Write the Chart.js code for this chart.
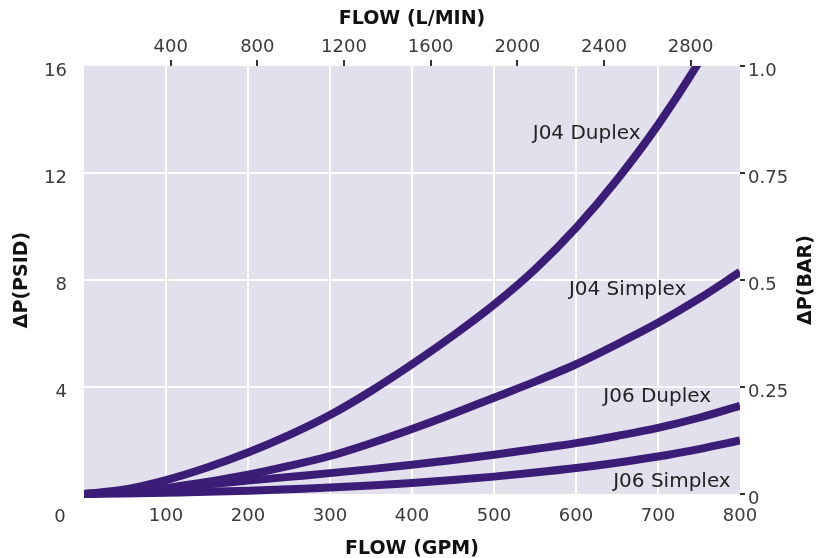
<!DOCTYPE html>
<html>
<head>
<meta charset="utf-8">
<script src="https://cdn.jsdelivr.net/npm/chart.js@4.4.1/dist/chart.umd.min.js"></script>
<style>
  html, body { margin: 0; padding: 0; background: #fff; }
  canvas { display: block; }
</style>
</head>
<body>
<canvas id="chart" width="818" height="558"></canvas>
<script>
// flow in GPM, pressure drop in PSID
const gpm = [0, 50, 100, 150, 200, 250, 300, 350, 400, 450, 500, 550, 600, 650, 700, 750, 800];
const j04Duplex = [0, 0.17, 0.52, 0.99, 1.55, 2.2, 2.95, 3.85, 4.85, 5.92, 7.08, 8.4, 9.95, 11.75, 13.8, 16.15, 18.8];
const j04Simplex = [0, 0.08, 0.23, 0.45, 0.72, 1.05, 1.42, 1.9, 2.43, 3.0, 3.6, 4.2, 4.85, 5.6, 6.4, 7.3, 8.3];
const j06Duplex = [0, 0.07, 0.2, 0.35, 0.5, 0.64, 0.78, 0.93, 1.09, 1.27, 1.47, 1.68, 1.9, 2.17, 2.47, 2.85, 3.3];
const j06Simplex = [0, 0.02, 0.05, 0.08, 0.12, 0.18, 0.24, 0.32, 0.41, 0.52, 0.65, 0.8, 0.97, 1.17, 1.4, 1.68, 2.0];

const seriesNames = ["J04 Duplex", "J04 Simplex", "J06 Duplex", "J06 Simplex"];
const labelGpm = [613, 663, 699, 717];
const labelPsi = [13.45, 7.64, 3.65, 0.45];

const gpmTicks = [100, 200, 300, 400, 500, 600, 700, 800];
const lpmTicks = [400, 800, 1200, 1600, 2000, 2400, 2800];
const psiTicks = [4, 8, 12, 16];
const barTicks = [0, 0.25, 0.5, 0.75, 1.0];
const lpmPerGpm = 3.785;

const lineColor = "#3b1d78";
const textColor = "#3a3a3a";
const tickFont = { family: "DejaVu Sans", size: 18 };
const titleFont = { family: "DejaVu Sans", size: 19, weight: "bold" };

function series(values) {
  return values.map((v, i) => ({ x: gpm[i], y: v }));
}
function useTicks(list) {
  return scale => { scale.ticks = list.map(v => ({ value: v })); };
}

const plotBackground = {
  id: "plotBackground",
  beforeDraw(chart) {
    const { ctx, chartArea: a } = chart;
    ctx.save();
    ctx.fillStyle = "#e1e0ec";
    ctx.fillRect(a.left, a.top, a.right - a.left, a.bottom - a.top);
    ctx.restore();
  }
};

const extraText = {
  id: "extraText",
  afterDraw(chart) {
    const { ctx, chartArea: a } = chart;
    const xs = chart.scales.x, ys = chart.scales.y;
    ctx.save();
    ctx.fillStyle = "#222";
    ctx.font = "20px 'DejaVu Sans'";
    ctx.textAlign = "center";
    ctx.textBaseline = "middle";
    seriesNames.forEach((name, i) => {
      ctx.fillText(name, xs.getPixelForValue(labelGpm[i]), ys.getPixelForValue(labelPsi[i]));
    });
    // shared origin label
    ctx.fillStyle = textColor;
    ctx.font = "18px 'DejaVu Sans'";
    ctx.fillText("0", a.left - 24, a.bottom + 23);
    // right axis title reads bottom to top
    ctx.fillStyle = "#111";
    ctx.font = "bold 19px 'DejaVu Sans'";
    ctx.translate(806, (a.top + a.bottom) / 2);
    ctx.rotate(-Math.PI / 2);
    ctx.fillText("ΔP(BAR)", 0, 0);
    ctx.restore();
  }
};

const makeLine = (label, values) => ({
  label: label,
  data: series(values),
  borderColor: lineColor,
  borderWidth: 8,
  pointRadius: 0,
  cubicInterpolationMode: "monotone",
  clip: { left: 0, top: 0, right: 0, bottom: 5 }
});

new Chart(document.getElementById("chart"), {
  type: "line",
  data: {
    datasets: [
      makeLine(seriesNames[0], j04Duplex),
      makeLine(seriesNames[1], j04Simplex),
      makeLine(seriesNames[2], j06Duplex),
      makeLine(seriesNames[3], j06Simplex)
    ]
  },
  options: {
    responsive: false,
    devicePixelRatio: 1,
    animation: false,
    layout: { padding: 0 },
    plugins: { legend: { display: false }, tooltip: { enabled: false } },
    scales: {
      x: {
        type: "linear", position: "bottom", min: 0, max: 800,
        afterBuildTicks: useTicks(gpmTicks),
        afterFit: s => { s.height = 64; },
        border: { display: false },
        grid: {
          drawTicks: false,
          lineWidth: 2,
          color: c => (c.tick && c.tick.value < 800 ? "#ffffff" : "rgba(0,0,0,0)")
        },
        ticks: { font: tickFont, color: textColor, padding: 12, maxRotation: 0, autoSkip: false, callback: v => String(v) },
        title: { display: true, text: "FLOW (GPM)", font: { ...titleFont, lineHeight: 0.95 }, color: "#111", padding: { top: 0, bottom: 0 } }
      },
      x2: {
        type: "linear", position: "top", min: 0, max: 800 * lpmPerGpm,
        afterBuildTicks: useTicks(lpmTicks),
        afterFit: s => { s.height = 66; },
        border: { display: false },
        grid: { drawOnChartArea: false, drawTicks: true, tickLength: 6, tickColor: "#333", lineWidth: 2 },
        ticks: { font: tickFont, color: textColor, padding: 2, maxRotation: 0, autoSkip: false, callback: v => String(v) },
        title: { display: true, text: "FLOW (L/MIN)", font: titleFont, color: "#111", padding: { top: 8, bottom: 0 } }
      },
      y: {
        type: "linear", position: "left", min: 0, max: 16,
        afterBuildTicks: useTicks(psiTicks),
        afterFit: s => { s.width = 84; },
        border: { display: false },
        grid: {
          drawTicks: false,
          lineWidth: 2,
          color: c => (c.tick && c.tick.value < 16 ? "#ffffff" : "rgba(0,0,0,0)")
        },
        ticks: { font: tickFont, color: textColor, padding: 17, labelOffset: 5, autoSkip: false },
        title: { display: true, text: "ΔP(PSID)", font: titleFont, color: "#111", padding: { top: 11, bottom: 0 } }
      },
      y2: {
        type: "linear", position: "right", min: 0, max: 1,
        afterBuildTicks: useTicks(barTicks),
        afterFit: s => { s.width = 78; },
        border: { display: false },
        grid: { drawOnChartArea: false, drawTicks: true, tickLength: 5, tickColor: "#333", lineWidth: 2 },
        ticks: {
          font: tickFont, color: textColor, padding: 3, labelOffset: 5, autoSkip: false,
          callback: v => (v === 1 ? "1.0" : String(v))
        }
      }
    }
  },
  plugins: [plotBackground, extraText]
});
</script>
</body>
</html>
